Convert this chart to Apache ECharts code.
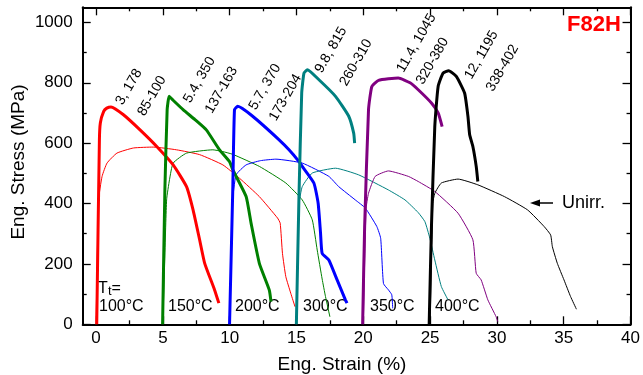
<!DOCTYPE html>
<html><head><meta charset="utf-8">
<script src="https://cdn.jsdelivr.net/npm/echarts@6/dist/echarts.min.js"></script>
<style>html,body{margin:0;padding:0;background:#fff}#c{width:643px;height:375px}</style>
</head><body><div id="c"></div>
<script>
// Irradiated (thick) curves: [strain %, stress MPa]
const irr100 = [[0.05,0],[0.25,611],[0.32,667],[0.57,705],[0.8,716],[1.12,720],[2.05,694],[3.29,644],[4.54,589],[5.77,528],[6.77,456],[7.26,379],[7.75,280],[8.13,202],[8.87,114],[9.19,70]];
const irr150 = [[4.98,0],[5.15,445],[5.32,711],[5.47,755],[5.7,745],[6.51,711],[7.4,678],[8.25,644],[9.24,578],[9.99,539],[10.23,512],[11.23,423],[11.6,335],[12.22,202],[12.96,114],[13.09,75]];
const irr200 = [[9.99,0],[10.23,445],[10.36,711],[10.6,722],[11.72,689],[13.7,611],[14.44,578],[15.19,539],[15.43,523],[16.3,468],[16.62,401],[16.8,302],[16.92,235],[17.42,213],[18.04,147],[18.66,81],[18.78,70]];
const irr300 = [[14.99,0],[15.19,434],[15.39,766],[15.56,832],[15.81,843],[16.68,810],[17.92,755],[18.91,689],[19.28,633],[19.35,600]];
const irr350 = [[19.95,0],[20.1,324],[20.39,711],[20.64,788],[21.14,808],[22.62,816],[23.5,800],[24.11,777],[25.1,733],[25.6,700],[25.9,655]];
const irr400 = [[24.93,0],[25.1,324],[25.35,655],[25.6,788],[25.97,832],[26.39,840],[26.96,821],[27.58,766],[27.83,689],[27.96,628],[28.2,589],[28.45,523],[28.57,473]];
// Unirradiated (thin) curves
const unirr100 = [[0,0],[0.19,412],[0.45,490],[0.82,534],[1.56,567],[2.8,584],[4.28,587],[6.02,578],[7.75,562],[9.49,528],[10.73,484],[12.22,423],[13.58,352],[13.78,335],[13.95,235],[14.2,158],[14.57,103],[14.89,58]];
const unirr150 = [[5,0],[5.28,412],[5.5,480],[5.77,534],[6.77,567],[8.74,578],[9.49,572],[10.23,563],[12.22,523],[14.2,468],[15.43,412],[16.18,346],[16.55,246],[16.92,150],[17.17,92],[17.5,25]];
const unirr200 = [[10,0],[10.2,400],[10.48,495],[11.23,528],[12.3,542],[13.46,547],[15.43,534],[17.42,490],[18.16,456],[19.4,412],[20.15,385],[21.01,324],[21.3,285],[21.51,135],[21.88,114],[22.13,98],[22.2,53]];
const unirr300 = [[15,0],[15.2,400],[15.43,456],[16.18,501],[17.92,517],[19.65,495],[21.88,445],[23.12,412],[24.11,370],[24.61,340],[24.98,285],[25.35,213],[25.84,125],[26.34,81]];
const unirr350 = [[20,0],[20.2,380],[20.39,434],[20.89,490],[21.88,508],[23.37,490],[24.11,473],[25.35,440],[27.09,368],[28.2,280],[28.45,169],[28.82,147],[29.32,81],[29.94,25],[30.06,9]];
const unirr400 = [[25,0],[25.2,400],[25.35,434],[25.84,468],[27.09,481],[28.57,462],[30.56,423],[32.29,379],[33.53,324],[34.02,296],[34.15,257],[34.52,202],[35.02,147],[35.51,92],[35.95,50]];

// Tick values
const xMajor = [0,5,10,15,20,25,30,35,40];
const xMinor = [2.5,7.5,12.5,17.5,22.5,27.5,32.5,37.5];
const yMajor = [0,200,400,600,800,1000];
const yMinor = [100,300,500,700,900];

const colors = ['#ff0000','#008000','#0000ff','#008080','#800080','#000000'];
const thinSets = [unirr100, unirr150, unirr200, unirr300, unirr350, unirr400];
const thickSets = [irr100, irr150, irr200, irr300, irr350, irr400];
const tempLabels = ['100°C','150°C','200°C','300°C','350°C','400°C'];
const annotTop = ['3, 178','5.4, 350','5.7, 370','9.8, 815','11.4, 1045','12, 1195'];
const annotBottom = ['85-100','137-163','173-204','260-310','320-380','338-402'];

const FONT = '"Liberation Sans", Arial, sans-serif';
const chart = echarts.init(document.getElementById('c'), null, {renderer:'canvas'});

const series = [];
thinSets.forEach((d,i)=>series.push({type:'line', data:d, showSymbol:false, smooth:0.15, lineStyle:{color:colors[i], width:1}, silent:true, z:2}));
thickSets.forEach((d,i)=>series.push({type:'line', data:d, showSymbol:false, smooth:0.15, lineStyle:{color:colors[i], width:3}, silent:true, z:3}));

const XMIN=-1, XMAX=40, YMIN=0, YMAX=1050;
const lineOn = {show:true, onZero:false, lineStyle:{color:'#000', width:2}};
const lineOff = {show:false, onZero:false};
function tick(vals, len){ return {show:true, inside:true, length:len, customValues:vals, lineStyle:{color:'#000', width:1.3}}; }
function xAx(pos, major, labels){
  return {type:'value', min:XMIN, max:XMAX, position:pos, axisLine: major?lineOn:lineOff,
    axisTick: major?tick(xMajor,8):tick(xMinor,4), splitLine:{show:false},
    axisLabel: labels ? {show:true, customValues:xMajor, fontSize:17, fontFamily:FONT, color:'#000', margin:6, formatter:v=>String(v)} : {show:false}};
}
function yAx(pos, major, labels){
  return {type:'value', min:YMIN, max:YMAX, position:pos, axisLine: major?lineOn:lineOff,
    axisTick: major?tick(yMajor,8):tick(yMinor,4), splitLine:{show:false},
    axisLabel: labels ? {show:true, customValues:yMajor, fontSize:17, fontFamily:FONT, color:'#000', margin:10, formatter:v=>String(v)} : {show:false}};
}

const topPos = [[129,87],[199.5,80],[265,87],[331,50],[416.5,43],[481.5,55]];
const botPos = [[152,96],[221.5,90],[285.5,97.5],[356,62.5],[432.5,61],[502.5,68]];
const tempX = [99,168,235,303,370,435];

const graphics = [];
const rot = 60*Math.PI/180;
annotTop.forEach((t,i)=>graphics.push({type:'text', x:topPos[i][0], y:topPos[i][1], rotation:rot, style:{text:t, font:'14px '+FONT, fill:'#000', textAlign:'center', textVerticalAlign:'middle'}}));
annotBottom.forEach((t,i)=>graphics.push({type:'text', x:botPos[i][0], y:botPos[i][1], rotation:rot, style:{text:t, font:'14px '+FONT, fill:'#000', textAlign:'center', textVerticalAlign:'middle'}}));
tempLabels.forEach((t,i)=>graphics.push({type:'text', x:tempX[i], y:307, style:{text:t, font:'16px '+FONT, fill:'#000', textAlign:'left', textVerticalAlign:'middle'}}));
graphics.push({type:'text', x:98, y:289, style:{text:'T', font:'16px '+FONT, fill:'#000', textAlign:'left', textVerticalAlign:'middle'}});
graphics.push({type:'text', x:108, y:291, style:{text:'t', font:'13px '+FONT, fill:'#000', textAlign:'left', textVerticalAlign:'middle'}});
graphics.push({type:'text', x:111.5, y:289, style:{text:'=', font:'16px '+FONT, fill:'#000', textAlign:'left', textVerticalAlign:'middle'}});
graphics.push({type:'text', x:594, y:25, style:{text:'F82H', font:'bold 22px '+FONT, fill:'#ff0000', textAlign:'center', textVerticalAlign:'middle'}});
graphics.push({type:'text', x:562, y:203, style:{text:'Unirr.', font:'18px '+FONT, fill:'#000', textAlign:'left', textVerticalAlign:'middle'}});
graphics.push({type:'line', shape:{x1:538, y1:203, x2:553, y2:203}, style:{stroke:'#000', lineWidth:1.5}});
graphics.push({type:'polygon', shape:{points:[[530,203],[540,199.5],[540,206.5]]}, style:{fill:'#000'}});
graphics.push({type:'text', x:342, y:365, style:{text:'Eng. Strain (%)', font:'19px '+FONT, fill:'#000', textAlign:'center', textVerticalAlign:'middle'}});
graphics.push({type:'text', x:18.5, y:162, rotation:Math.PI/2, style:{text:'Eng. Stress (MPa)', font:'19px '+FONT, fill:'#000', textAlign:'center', textVerticalAlign:'middle'}});

chart.setOption({
  animation:false,
  backgroundColor:'#fff',
  grid:{left:82.7, right:10.3, top:7.3, bottom:50.7, containLabel:false},
  xAxis:[ xAx('bottom',true,true), xAx('top',true,false), xAx('bottom',false,false), xAx('top',false,false) ],
  yAxis:[ yAx('left',true,true), yAx('right',true,false), yAx('left',false,false), yAx('right',false,false) ],
  series: series,
  graphic: graphics
});
</script>
</body></html>
